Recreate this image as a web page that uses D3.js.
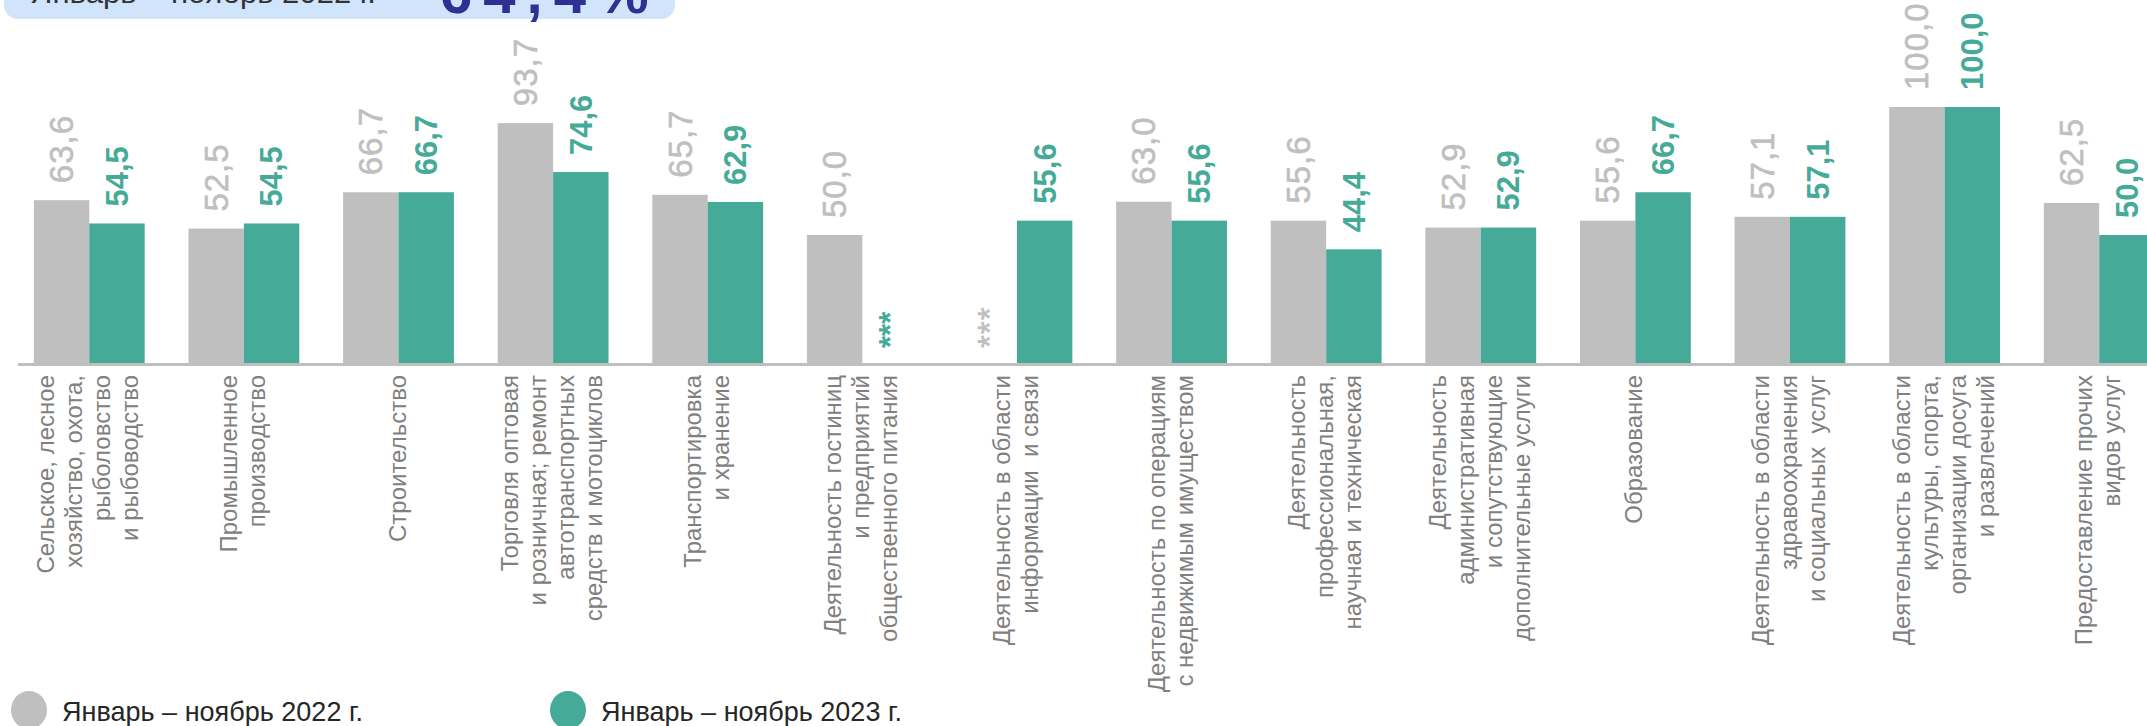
<!DOCTYPE html>
<html>
<head>
<meta charset="utf-8">
<script src="https://cdn.jsdelivr.net/npm/d3@7"></script>
<style>
  body { margin: 0; background: #fff; overflow: hidden; }
  svg { display: block; font-family: "Liberation Sans", Arial, sans-serif; }
  .cat { white-space: pre; }
</style>
</head>
<body>
<svg id="chart" width="2147" height="726"></svg>
<script>
// data
var categories = [
  "Сельское, лесное\nхозяйство, охота,\nрыболовство\nи рыбоводство",
  "Промышленное\nпроизводство",
  "Строительство",
  "Торговля оптовая\nи розничная; ремонт\nавтотранспортных\nсредств и мотоциклов",
  "Транспортировка\nи хранение",
  "Деятельность гостиниц\nи предприятий\nобщественного питания",
  "Деятельность в области\nинформации  и связи",
  "Деятельность по операциям\nс недвижимым имуществом",
  "Деятельность\nпрофессиональная,\nнаучная и техническая",
  "Деятельность\nадминистративная\nи сопутствующие\nдополнительные услуги",
  "Образование",
  "Деятельность в области\nздравоохранения\nи социальных  услуг",
  "Деятельность в области\nкультуры, спорта,\nорганизации досуга\nи развлечений",
  "Предоставление прочих\nвидов услуг"
];
// null = "***" (data withheld)
var values2022 = [63.6, 52.5, 66.7, 93.7, 65.7, 50.0, null, 63.0, 55.6, 52.9, 55.6, 57.1, 100.0, 62.5];
var values2023 = [54.5, 54.5, 66.7, 74.6, 62.9, null, 55.6, 55.6, 44.4, 52.9, 66.7, 57.1, 100.0, 50.0];
var seriesNames = ["Январь – ноябрь 2022 г.", "Январь – ноябрь 2023 г."];
var headerLabel = "Январь – ноябрь 2022 г.";
var headerValue = "64,4%";

var grey = "#bfbfbf", green = "#46aa98";
var colors = [grey, green];

var svg = d3.select("#chart");
var fmt = function(v) { return d3.format(".1f")(v).replace(".", ","); };

// header box (cut off at the top of the picture)
svg.append("rect")
  .attr("x", 4).attr("y", -60).attr("width", 671).attr("height", 79)
  .attr("rx", 14).attr("fill", "#d0e5fb");
svg.append("text")
  .attr("x", 30).attr("y", 3)
  .attr("font-size", 30).attr("fill", "#333")
  .attr("textLength", 346).attr("lengthAdjust", "spacingAndGlyphs")
  .text(headerLabel);
svg.append("text")
  .attr("x", 440).attr("y", 13)
  .attr("font-size", 58).attr("font-weight", "bold")
  .attr("letter-spacing", 11).attr("fill", "#2e3192")
  .text(headerValue);

// scales
var x = d3.scaleBand()
  .domain(d3.range(categories.length))
  .range([12, 2176.5])
  .paddingInner(0.2833)
  .paddingOuter(0.1416);
var xs = d3.scaleBand().domain([0, 1]).range([0, x.bandwidth()]);
var y = d3.scaleLinear().domain([0, 100]).range([363, 107]);

var rows = categories.map(function(c, i) {
  return { i: i, cat: c, vals: [values2022[i], values2023[i]] };
});

var groups = svg.append("g").selectAll("g")
  .data(rows).join("g")
  .attr("transform", function(d) { return "translate(" + x(d.i) + ",0)"; });

var cells = groups.selectAll("g.cell")
  .data(function(d) { return d.vals.map(function(v, s) { return { v: v, s: s }; }); })
  .join("g").attr("class", "cell");

cells.filter(function(d) { return d.v != null; })
  .append("rect")
  .attr("x", function(d) { return xs(d.s); })
  .attr("width", xs.bandwidth())
  .attr("y", function(d) { return y(d.v); })
  .attr("height", function(d) { return y(0) - y(d.v); })
  .attr("fill", function(d) { return colors[d.s]; });

// value labels, rotated
cells.append("text")
  .attr("transform", function(d) {
    var cx = xs(d.s) + xs.bandwidth() / 2;
    var ty = d.v != null ? y(d.v) - 17 : y(0) - 15;
    return "translate(" + cx + "," + ty + ") rotate(-90)";
  })
  .attr("dy", "0.35em")
  .attr("font-size", function(d) { return d.s === 1 ? 31 : 33; })
  .attr("font-weight", function(d) { return d.s === 1 ? "bold" : "normal"; })
  .attr("letter-spacing", function(d) { return d.s === 1 ? 0 : 1; })
  .attr("stroke", function(d) { return d.s === 1 ? "none" : grey; })
  .attr("stroke-width", 0.6)
  .attr("fill", function(d) { return colors[d.s]; })
  .text(function(d) { return d.v != null ? fmt(d.v) : "***"; });

// baseline
svg.append("line")
  .attr("x1", 18).attr("x2", 2147)
  .attr("y1", y(0) + 1.5).attr("y2", y(0) + 1.5)
  .attr("stroke", grey).attr("stroke-width", 3);

// category labels
var lineH = 28;
groups.append("text")
  .attr("class", "cat")
  .attr("transform", "translate(" + x.bandwidth() / 2 + ",375) rotate(-90)")
  .attr("text-anchor", "end")
  .attr("font-size", 24)
  .attr("fill", "#808080")
  .each(function(d) {
    var lines = d.cat.split("\n");
    var n = lines.length;
    d3.select(this).selectAll("tspan")
      .data(lines).join("tspan")
      .attr("x", 0)
      .attr("y", function(l, k) { return (k - (n - 1) / 2) * lineH + 7; })
      .text(function(l) { return l; });
  });

// legend
var legX = [29, 568];
var leg = svg.append("g").selectAll("g")
  .data(seriesNames).join("g")
  .attr("transform", function(d, i) { return "translate(" + legX[i] + ",710)"; });
leg.append("ellipse")
  .attr("rx", 18).attr("ry", 19)
  .attr("fill", function(d, i) { return colors[i]; });
leg.append("text")
  .attr("x", 33).attr("y", 11)
  .attr("font-size", 28)
  .attr("textLength", 301)
  .attr("lengthAdjust", "spacingAndGlyphs")
  .attr("fill", "#262626")
  .text(function(d) { return d; });
</script>
</body>
</html>
